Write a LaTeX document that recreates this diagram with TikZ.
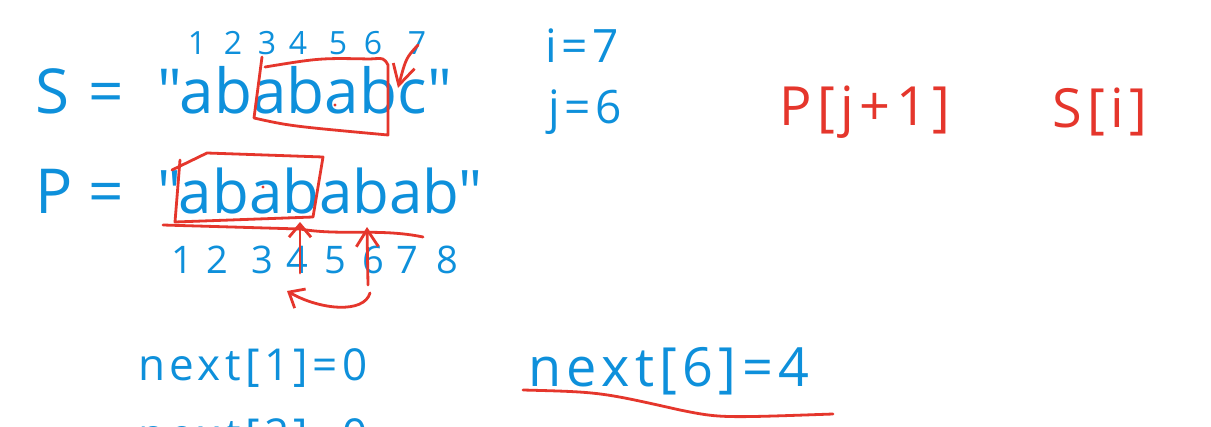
\documentclass[tikz,border=0pt]{standalone}
\usepackage{fontspec}
\setmainfont{Open Sans}
\newfontfamily\strfont[Ligatures=TeXOff]{Open Sans}
\newfontfamily\handfont[LetterSpace=10]{Open Sans}
\usetikzlibrary{arrows.meta}
\definecolor{cblue}{HTML}{0E90DB}
\definecolor{cred}{HTML}{E5362C}

\begin{document}
\begin{tikzpicture}[x=1pt,y=-1pt,
  bigtxt/.style={anchor=base west,inner sep=0pt,text=cblue,font=\strfont\fontsize{#1}{#1}\selectfont},
  digit/.style={inner sep=0pt,text=cblue,font=\fontsize{#1}{#1}\selectfont},
  bluehand/.style={inner sep=0pt,text=cblue,font=\handfont\fontsize{#1}{#1}\selectfont},
  redhand/.style={inner sep=0pt,text=cred,font=\handfont\fontsize{#1}{#1}\selectfont},
  pen/.style={draw=cred,line width=2.8pt,line cap=round,line join=round},
  penarr/.style={pen,-{Straight Barb[length=#1,width=22pt]}}]
  \useasboundingbox (0,0) rectangle (1211,426);
  \clip (0,0) rectangle (1211,426);
  \fill[white] (0,0) rectangle (1211,426);
  % the two strings
  \node[bigtxt=62] (sS) at (35,113) {S};
  \node[bigtxt=62] (eqS) at (88,113) {=};
  \node[bigtxt=62] (strS) at (157,113) {"abababc"};
  \node[bigtxt=62] (sP) at (35,213) {P};
  \node[bigtxt=62] (eqP) at (88,213) {=};
  \node[bigtxt=60] (strP) at (157,213) {"abababab"};
  % indices
  \foreach \x [count=\k] in {197,233,267,298,338,373,417}
    \node[digit=32] (s\k) at (\x,43) {\k};
  \foreach \x [count=\k] in {182,217,262,297,335,373,407,447}
    \node[digit=38] (p\k) at (\x,260) {\k};
  % notes
  \node[bluehand=46] (ival) at (582,46) {i=7};
  \node[bluehand=46] (jval) at (585,112) {j=6};
  \node[redhand=54] (pj) at (865,112) {P[j+1]};
  \node[redhand=54] (si) at (1100,112) {S[i]};
  \node[bluehand=44,anchor=base west] (next1) at (138,380) {next[1]=0};
  \node[bluehand=44,anchor=base west] (next2) at (138,450) {next[2]=0};
  \node[bluehand=54,anchor=base west] (next6) at (528,386) {next[6]=4};
  % red marks
  \draw[pen] (262,57) -- (254,118) .. controls (290,126) .. (388,135) -- (388,65)
    .. controls (384,58) .. (370,59) .. controls (320,58) .. (265,67);
  \coordinate (ctail) at (418,45);
  \coordinate (ctip) at (398,88);
  \draw[penarr=20pt] (ctail) .. controls (406,58) .. (ctip);
  \draw[pen] (172,170) -- (207,153) -- (323,157) -- (313,217) -- (175,222) -- (180,160);
  \draw[pen] (163,225) -- (300,229) .. controls (340,236) and (380,228) .. (423,237);
  \coordinate (tail4) at (300,273);
  \coordinate (tip4) at (300,222);
  \coordinate (tail6) at (368,285);
  \coordinate (tip6) at (367,227);
  \draw[penarr=13pt] (tail4) -- (tip4);
  \draw[penarr=17pt] (tail6) -- (tip6);
  \coordinate (backtail) at (370,293);
  \coordinate (backtip) at (287,291);
  \draw[penarr=13pt] (backtail) .. controls (364,314) and (320,310) .. (backtip);
  \draw[pen] (523,390) .. controls (600,392) .. (680,410) .. controls (720,418) .. (833,414);
  \fill[cred] (335,105) circle (1.6pt) (263,187) circle (1.6pt);
\end{tikzpicture}
\end{document}
